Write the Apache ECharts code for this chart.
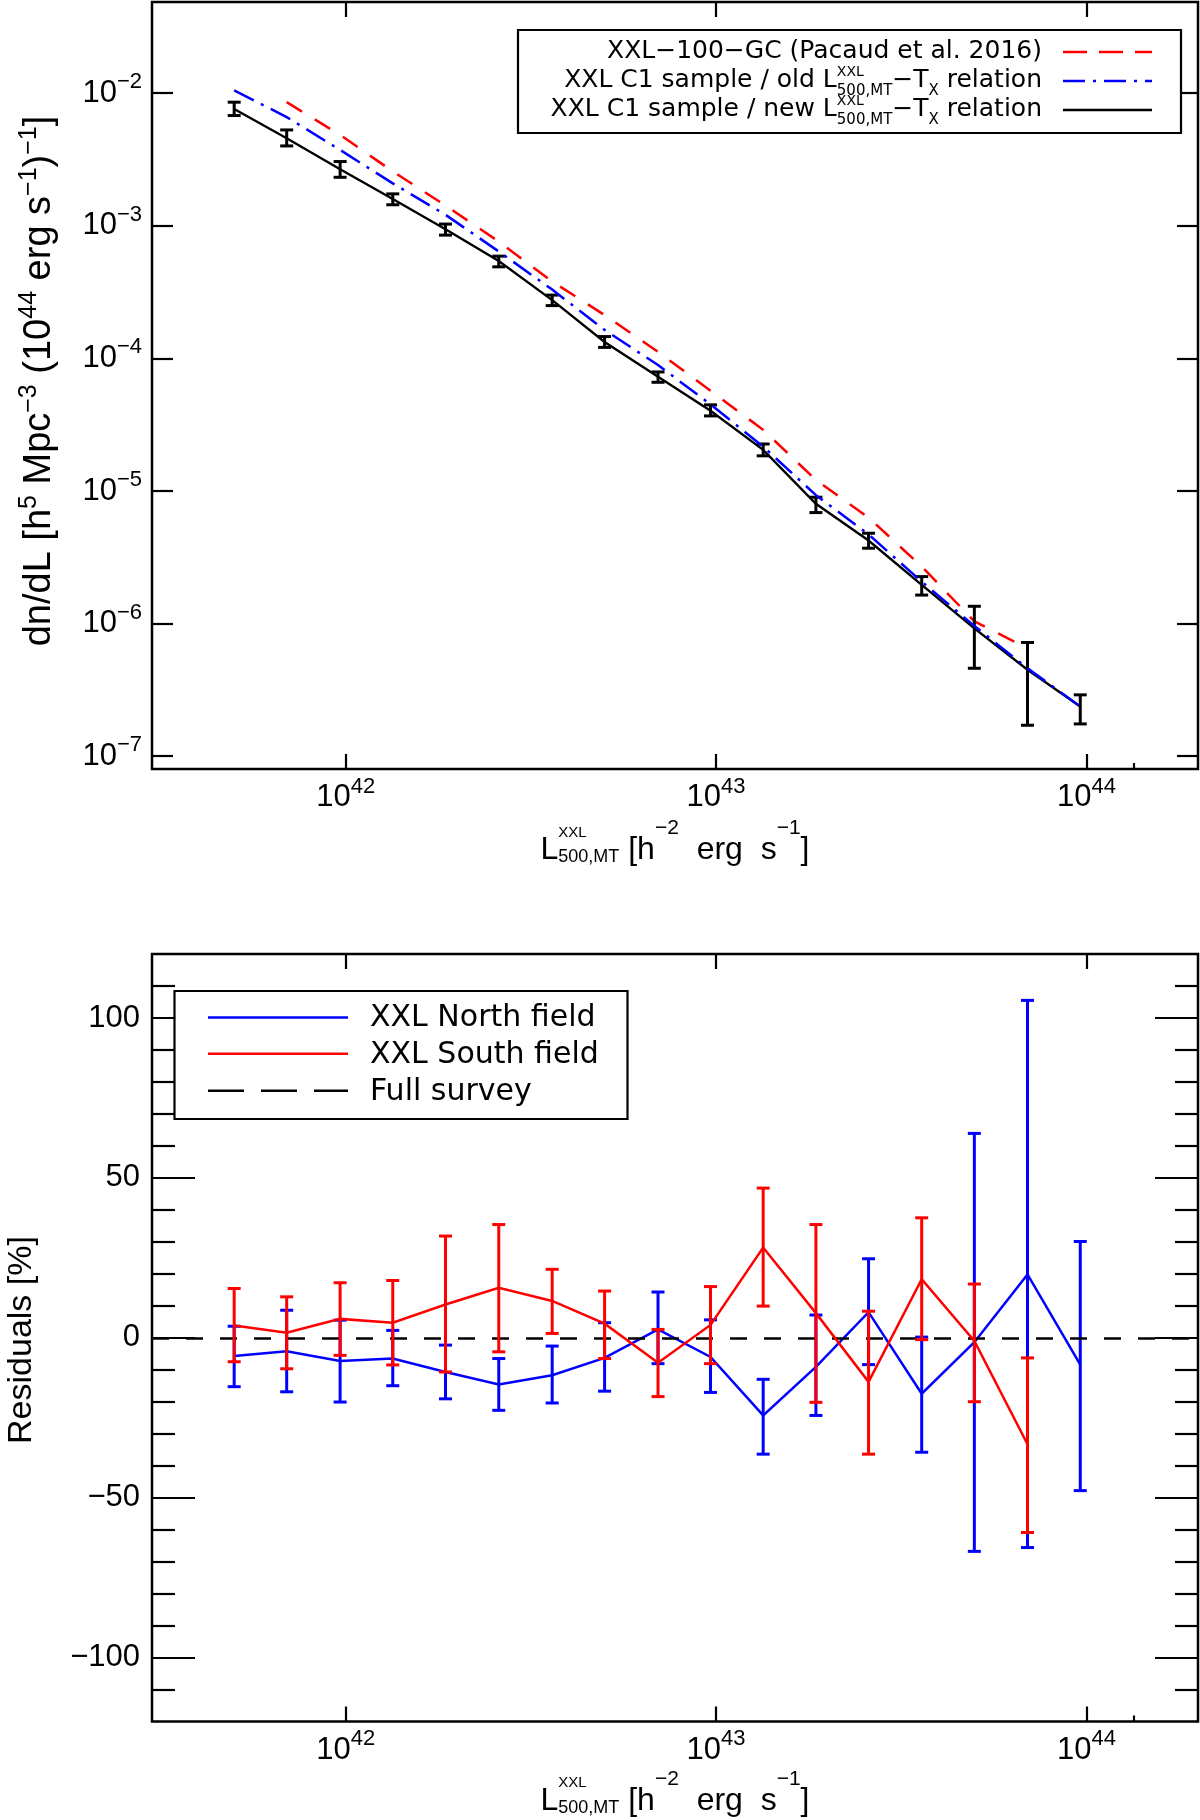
<!DOCTYPE html>
<html>
<head>
<meta charset="utf-8">
<script src="https://cdn.jsdelivr.net/npm/echarts@6/dist/echarts.min.js"></script>
<style>
  html, body { margin: 0; padding: 0; background: #fff; }
  #main { width: 1200px; height: 1820px; }
</style>
</head>
<body>
<div id="main"></div>
<script>
  // luminosity bins [h^-2 erg/s]
  var lumBins = [5.0e41, 6.93e41, 9.66e41, 1.34e42, 1.86e42, 2.59e42, 3.61e42, 5.0e42, 6.97e42,
    9.66e42, 1.34e43, 1.86e43, 2.58e43, 3.59e43, 4.98e43, 6.93e43, 9.62e43];

  // top panel: dn/dL
  var dndlNew = [7.6e-3, 4.57e-3, 2.67e-3, 1.59e-3, 9.4e-4, 5.42e-4, 2.75e-4, 1.33e-4, 7.26e-5,
    4.02e-5, 2.04e-5, 8.0e-6, 4.23e-6, 1.96e-6, 9.2e-7, 4.48e-7, 2.37e-7];
  var dndlNewLo = [6.78e-3, 4.0e-3, 2.32e-3, 1.44e-3, 8.5e-4, 4.9e-4, 2.5e-4, 1.21e-4, 6.6e-5,
    3.68e-5, 1.84e-5, 6.87e-6, 3.7e-6, 1.64e-6, 4.6e-7, 1.71e-7, 1.75e-7];
  var dndlNewHi = [8.55e-3, 5.28e-3, 3.05e-3, 1.74e-3, 1.03e-3, 5.9e-4, 3.0e-4, 1.46e-4, 7.9e-5,
    4.46e-5, 2.26e-5, 8.97e-6, 4.8e-6, 2.26e-6, 1.35e-6, 7.2e-7, 2.9e-7];
  var dndlOld = [1.05e-2, 6.6e-3, 3.73e-3, 2.09e-3, 1.21e-3, 6.4e-4, 3.3e-4, 1.64e-4, 8.9e-5,
    4.5e-5, 2.16e-5, 9.3e-6, 4.7e-6, 2.07e-6, 9.6e-7, 4.6e-7, 2.37e-7];
  var dndlPacaud = [null, 8.55e-3, 4.84e-3, 2.57e-3, 1.42e-3, 7.6e-4, 3.8e-4, 2.12e-4, 1.12e-4,
    5.7e-5, 2.89e-5, 1.21e-5, 6.3e-6, 2.69e-6, 1.04e-6, 6.5e-7, null];

  // bottom panel: residuals [%]
  var northRes = [-5.7, -4.2, -7.3, -6.5, -10.7, -14.6, -11.7, -6.3, 2.6, -6.0, -24.3, -9.1, 8.0, -17.5, -1.4, 19.8, -8.4];
  var northLo = [-15.3, -16.9, -20.1, -15.0, -19.1, -22.7, -20.4, -16.7, -8.1, -17.1, -36.4, -24.3, -8.4, -35.8, -66.8, -65.6, -47.8];
  var northHi = [3.6, 8.6, 5.5, 2.3, -2.3, -6.5, -2.6, 4.7, 14.3, 5.6, -13.0, 7.1, 24.7, 0.2, 63.9, 105.5, 30.1];
  var southRes = [3.85, 1.56, 5.9, 4.7, 10.4, 15.6, 11.5, 4.4, -7.8, 4.0, 28.2, 7.7, -13.8, 18.3, -1.0, -33.3, null];
  var southLo = [-7.5, -9.7, -5.5, -8.5, -10.7, -4.4, 1.35, -6.5, -18.4, -8.1, 9.9, -20.2, -36.4, -0.6, -20.0, -60.9, null];
  var southHi = [15.4, 12.8, 17.2, 17.9, 31.8, 35.4, 21.4, 14.6, 2.6, 16.0, 46.8, 35.4, 8.3, 37.5, 16.8, -6.3, null];

  // ticks
  var xTicks = [1e42, 1e43, 1e44];
  var xMinorTicks = [1.34e44];
  var yTicksTop = [1e-7, 1e-6, 1e-5, 1e-4, 1e-3, 1e-2];
  var yTicksRes = [-100, -50, 0, 50, 100];
  var yMinorRes = [-110, -90, -80, -70, -60, -40, -30, -20, -10, 10, 20, 30, 40, 60, 70, 80, 90, 110];

  var FONT_NUM = "'Liberation Sans', Arial, sans-serif";
  var FONT_TXT = "'DejaVu Sans', sans-serif";

  var measureCtx = document.createElement('canvas').getContext('2d');
  function textWidth(str, size, family) {
    measureCtx.font = size + 'px ' + family;
    return measureCtx.measureText(str).width;
  }
  function txt(s, x, baseY, size, family) {
    return {
      type: 'text', x: x, y: baseY - 0.346 * size, z: 60,
      style: { text: s, font: size + 'px ' + family, fill: '#000', align: 'left', verticalAlign: 'middle' }
    };
  }
  // lays out text pieces (with super/subscripts) along a baseline at y=0
  function buildLabel(pieces, family) {
    var x = 0, els = [];
    pieces.forEach(function (p) {
      if (p.sup !== undefined) {
        var s2 = p.size2 || p.size;
        els.push(txt(p.sup, x, -p.up, p.size, family));
        els.push(txt(p.sub, x, p.down, s2, family));
        x += Math.max(textWidth(p.sup, p.size, family), textWidth(p.sub, s2, family));
      } else {
        els.push(txt(p.t, x, -(p.up || 0), p.size, family));
        x += textWidth(p.t, p.size, family);
      }
    });
    return { width: x, els: els };
  }
  function placeLabel(pieces, family, anchorX, baseY, align, rotation) {
    var lab = buildLabel(pieces, family);
    var off = align === 'right' ? -lab.width : (align === 'center' ? -lab.width / 2 : 0);
    lab.els.forEach(function (e) { e.x += off; });
    return { type: 'group', x: anchorX, y: baseY, z: 60, rotation: rotation || 0, children: lab.els };
  }

  function expLabel(v) {
    var e = Math.round(Math.log10(v));
    return '{b|10}{e|' + (e < 0 ? '\u2212' + (-e) : e) + '}';
  }
  var expRich = {
    b: { fontSize: 31, fontFamily: FONT_NUM, lineHeight: 31, color: '#000' },
    e: { fontSize: 22, fontFamily: FONT_NUM, lineHeight: 22, padding: [0, 0, 22, 0], color: '#000' }
  };

  function tickStyle(len, values) {
    return { show: true, inside: true, length: len, customValues: values, lineStyle: { color: '#000', width: 2.2 } };
  }
  function logX(grid, pos, ticks, len, withLabels) {
    return {
      type: 'log', logBase: 10, gridIndex: grid, position: pos, min: 3.0e41, max: 2.0e44,
      axisLine: { show: false, onZero: false }, splitLine: { show: false },
      axisTick: tickStyle(len, ticks),
      axisLabel: withLabels ? { show: true, customValues: ticks, formatter: expLabel, rich: expRich, margin: 13 } : { show: false }
    };
  }

  var xAxes = [
    logX(0, 'bottom', xTicks, 15, true),
    logX(0, 'bottom', xMinorTicks, 6, false),
    logX(0, 'top', xTicks, 15, false),
    logX(1, 'bottom', xTicks, 15, true),
    logX(1, 'bottom', xMinorTicks, 6, false),
    logX(1, 'top', xTicks, 15, false)
  ];

  var yAxes = [
    {
      type: 'log', logBase: 10, gridIndex: 0, position: 'left', min: 8.0e-8, max: 4.87e-2,
      axisLine: { show: false, onZero: false }, splitLine: { show: false }, axisTick: tickStyle(21, yTicksTop),
      axisLabel: { customValues: yTicksTop, formatter: expLabel, rich: expRich, margin: 10 }
    },
    {
      type: 'log', logBase: 10, gridIndex: 0, position: 'right', min: 8.0e-8, max: 4.87e-2,
      axisLine: { show: false, onZero: false }, splitLine: { show: false }, axisTick: tickStyle(21, yTicksTop),
      axisLabel: { show: false }
    },
    {
      type: 'value', gridIndex: 1, position: 'left', min: -120, max: 120,
      axisLine: { show: false, onZero: false }, splitLine: { show: false }, axisTick: tickStyle(43, yTicksRes),
      axisLabel: {
        customValues: yTicksRes, margin: 12, fontSize: 31, fontFamily: FONT_NUM, color: '#000',
        formatter: function (v) { return v < 0 ? '\u2212' + (-v) : '' + v; }
      }
    },
    {
      type: 'value', gridIndex: 1, position: 'left', min: -120, max: 120,
      axisLine: { show: false, onZero: false }, splitLine: { show: false }, axisTick: tickStyle(23, yMinorRes),
      axisLabel: { show: false }
    },
    {
      type: 'value', gridIndex: 1, position: 'right', min: -120, max: 120,
      axisLine: { show: false, onZero: false }, splitLine: { show: false }, axisTick: tickStyle(43, yTicksRes),
      axisLabel: { show: false }
    },
    {
      type: 'value', gridIndex: 1, position: 'right', min: -120, max: 120,
      axisLine: { show: false, onZero: false }, splitLine: { show: false }, axisTick: tickStyle(23, yMinorRes),
      axisLabel: { show: false }
    }
  ];

  function pairs(xs, ys) {
    var out = [];
    for (var i = 0; i < xs.length; i++) {
      if (ys[i] !== null) out.push([xs[i], ys[i]]);
    }
    return out;
  }
  function lineSeries(name, xs, ys, color, width, dash, xi, yi, z) {
    return {
      name: name, type: 'line', xAxisIndex: xi, yAxisIndex: yi, z: z,
      data: pairs(xs, ys), symbol: 'none', showSymbol: false, silent: true,
      lineStyle: { color: color, width: width, type: dash, cap: 'butt', join: 'miter' }
    };
  }
  function errSeries(xs, lo, hi, color, width, capW, xi, yi, z) {
    var data = [];
    for (var i = 0; i < xs.length; i++) {
      if (lo[i] !== null) data.push([xs[i], lo[i], hi[i]]);
    }
    return {
      type: 'custom', xAxisIndex: xi, yAxisIndex: yi, z: z, silent: true,
      data: data, encode: { x: 0, y: [1, 2] },
      renderItem: function (params, api) {
        var x = api.value(0);
        var p1 = api.coord([x, api.value(1)]);
        var p2 = api.coord([x, api.value(2)]);
        var w = capW / 2;
        var st = { stroke: color, lineWidth: width, lineCap: 'butt' };
        return {
          type: 'group', children: [
            { type: 'line', shape: { x1: p1[0], y1: p1[1], x2: p2[0], y2: p2[1] }, style: st },
            { type: 'line', shape: { x1: p1[0] - w, y1: p1[1], x2: p1[0] + w, y2: p1[1] }, style: st },
            { type: 'line', shape: { x1: p2[0] - w, y1: p2[1], x2: p2[0] + w, y2: p2[1] }, style: st }
          ]
        };
      }
    };
  }

  var RED = '#ff0000', BLUE = '#0000ff';
  var dashRed = [18, 15], dashDot = [22, 8, 3, 8];

  var northLine = lineSeries('XXL North field', lumBins, northRes, BLUE, 2.5, 'solid', 3, 2, 3);
  northLine.markLine = {
    silent: true, symbol: ['none', 'none'], label: { show: false },
    lineStyle: { color: '#000', width: 2.5, type: [17, 17] },
    data: [{ yAxis: 0 }]
  };

  var series = [
    lineSeries('XXL-100-GC', lumBins, dndlPacaud, RED, 2.5, dashRed, 0, 0, 2),
    lineSeries('new', lumBins, dndlNew, '#000', 2.4, 'solid', 0, 0, 3),
    errSeries(lumBins, dndlNewLo, dndlNewHi, '#000', 3, 13, 0, 0, 4),
    lineSeries('old', lumBins, dndlOld, BLUE, 2.5, dashDot, 0, 0, 5),
    northLine,
    errSeries(lumBins, northLo, northHi, BLUE, 3, 13, 3, 2, 4),
    lineSeries('XXL South field', lumBins, southRes, RED, 2.5, 'solid', 3, 2, 5),
    errSeries(lumBins, southLo, southHi, RED, 3, 13, 3, 2, 6)
  ];

  // legends and axis titles
  var lStyle = function (color, dash) { return { stroke: color, lineWidth: 2.5, lineDash: dash }; };
  var xTitle = [
    { t: 'L', size: 32 },
    { sup: 'XXL', sub: '500,MT', size: 15, size2: 18, up: 24, down: 2 },
    { t: ' [h', size: 32 }, { t: '\u22122', size: 21, up: 26 },
    { t: '  erg  s', size: 32 }, { t: '\u22121', size: 21, up: 26 }, { t: ']', size: 32 }
  ];
  var yTitleTop = [
    { t: 'dn/dL [h', size: 38 }, { t: '5', size: 25, up: 15 },
    { t: ' Mpc', size: 38 }, { t: '\u22123', size: 25, up: 15 },
    { t: ' (10', size: 38 }, { t: '44', size: 25, up: 15 },
    { t: ' erg s', size: 38 }, { t: '\u22121', size: 25, up: 15 },
    { t: ')', size: 38 }, { t: '\u22121', size: 25, up: 15 }, { t: ']', size: 38 }
  ];
  function relRow(word) {
    return [
      { t: 'XXL C1 sample / ' + word + ' L', size: 25 },
      { sup: 'XXL', sub: '500,MT', size: 14, size2: 15, up: 12, down: 7 },
      { t: '\u2212T', size: 25 }, { t: 'X', size: 15, up: -7 }, { t: ' relation', size: 25 }
    ];
  }

  var graphics = [
    // top legend
    { type: 'rect', z: 50, shape: { x: 518, y: 30, width: 663, height: 103 }, style: { fill: '#fff', stroke: '#000', lineWidth: 2.2 } },
    placeLabel([{ t: 'XXL\u2212100\u2212GC (Pacaud et al. 2016)', size: 25 }], FONT_TXT, 1042, 60, 'right'),
    placeLabel(relRow('old'), FONT_TXT, 1042, 89, 'right'),
    placeLabel(relRow('new'), FONT_TXT, 1042, 118, 'right'),
    { type: 'line', z: 51, shape: { x1: 1063, y1: 52, x2: 1152, y2: 52 }, style: lStyle(RED, [24, 12]) },
    { type: 'line', z: 51, shape: { x1: 1063, y1: 81, x2: 1152, y2: 81 }, style: lStyle(BLUE, dashDot) },
    { type: 'line', z: 51, shape: { x1: 1063, y1: 110, x2: 1152, y2: 110 }, style: lStyle('#000', null) },
    // bottom legend
    { type: 'rect', z: 50, shape: { x: 174.5, y: 991, width: 453, height: 128 }, style: { fill: '#fff', stroke: '#000', lineWidth: 2.2 } },
    { type: 'line', z: 51, shape: { x1: 208, y1: 1017.4, x2: 348, y2: 1017.4 }, style: lStyle(BLUE, null) },
    { type: 'line', z: 51, shape: { x1: 208, y1: 1053.7, x2: 348, y2: 1053.7 }, style: lStyle(RED, null) },
    { type: 'line', z: 51, shape: { x1: 208, y1: 1090.7, x2: 348, y2: 1090.7 }, style: lStyle('#000', [36, 17]) },
    placeLabel([{ t: 'XXL North field', size: 30 }], FONT_TXT, 370, 1029, 'left'),
    placeLabel([{ t: 'XXL South field', size: 30 }], FONT_TXT, 370, 1065.3, 'left'),
    placeLabel([{ t: 'Full survey', size: 30 }], FONT_TXT, 370, 1102.3, 'left'),
    // axis titles
    placeLabel(xTitle, FONT_NUM, 675, 861.7, 'center'),
    placeLabel(xTitle, FONT_NUM, 675, 1812, 'center'),
    placeLabel(yTitleTop, FONT_NUM, 53, 381, 'center', Math.PI / 2),
    placeLabel([{ t: 'Residuals [%]', size: 34 }], FONT_NUM, 33, 1340, 'center', Math.PI / 2)
  ];

  var option = {
    animation: false,
    backgroundColor: '#fff',
    grid: [
      { left: 152, top: 2, width: 1046, height: 767, show: true, borderColor: '#000', borderWidth: 2.5, backgroundColor: 'transparent' },
      { left: 152, top: 954, width: 1046, height: 767.5, show: true, borderColor: '#000', borderWidth: 2.5, backgroundColor: 'transparent' }
    ],
    xAxis: xAxes,
    yAxis: yAxes,
    series: series,
    graphic: graphics
  };

  var chart = echarts.init(document.getElementById('main'));
  chart.setOption(option);
</script>
</body>
</html>
